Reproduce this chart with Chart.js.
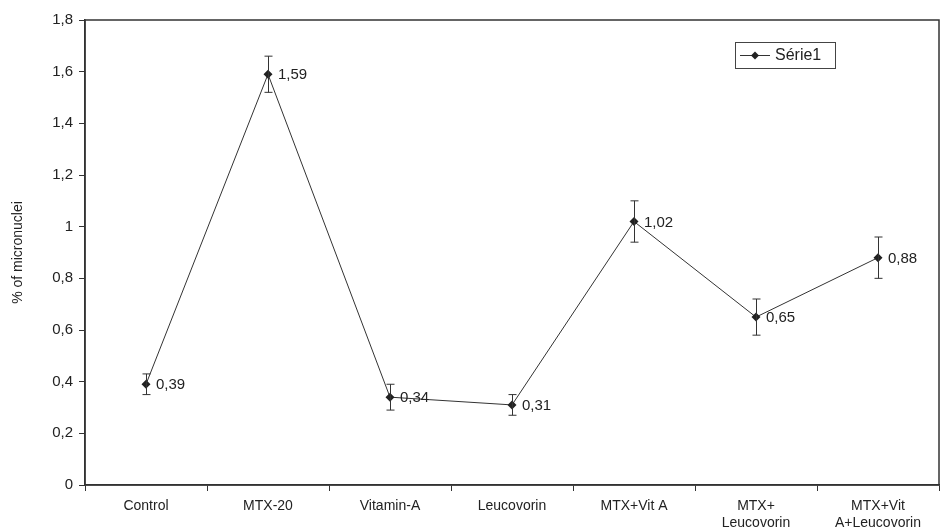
<!DOCTYPE html>
<html lang="pt">
  <head>
    <meta charset="UTF-8" />
    <title>% of micronuclei</title>
    <script src="https://cdn.jsdelivr.net/npm/chart.js"></script>
    <style>
      html, body { margin: 0; padding: 0; background: #fff; }
      #wrap { width: 940px; height: 531px; position: relative; }
    </style>
  </head>
  <body>
    <div id="wrap"><canvas id="chart"></canvas></div>

    <script>
      // dados
      const categories = [
        "Control",
        "MTX-20",
        "Vitamin-A",
        "Leucovorin",
        "MTX+Vit A",
        ["MTX+", "Leucovorin"],
        ["MTX+Vit", "A+Leucovorin"],
      ];
      const values = [0.39, 1.59, 0.34, 0.31, 1.02, 0.65, 0.88];
      const errors = [0.04, 0.07, 0.05, 0.04, 0.08, 0.07, 0.08];
      const yTicks = [0, 0.2, 0.4, 0.6, 0.8, 1, 1.2, 1.4, 1.6, 1.8];
      const seriesName = "Série1";

      const ink = "#222";
      const fmt = (v) => String(Math.round(v * 100) / 100).replace(".", ",");

      // moldura, barras de erro, rótulos e legenda
      const extras = {
        id: "extras",
        afterDatasetsDraw(chart) {
          const { ctx, chartArea: a, scales } = chart;
          const meta = chart.getDatasetMeta(0);
          ctx.save();

          // barras de erro
          ctx.strokeStyle = "#333";
          ctx.lineWidth = 1;
          meta.data.forEach((pt, i) => {
            const x = Math.round(pt.x) + 0.5;
            const yTop = scales.y.getPixelForValue(values[i] + errors[i]);
            const yBot = scales.y.getPixelForValue(values[i] - errors[i]);
            ctx.beginPath();
            ctx.moveTo(x, yTop);
            ctx.lineTo(x, yBot);
            ctx.moveTo(x - 4, yTop);
            ctx.lineTo(x + 4, yTop);
            ctx.moveTo(x - 4, yBot);
            ctx.lineTo(x + 4, yBot);
            ctx.stroke();
          });

          // rótulos de valor
          ctx.fillStyle = ink;
          ctx.font = "15px 'Liberation Sans', Arial, sans-serif";
          ctx.textBaseline = "middle";
          ctx.textAlign = "left";
          meta.data.forEach((pt, i) => {
            ctx.fillText(fmt(values[i]), pt.x + 10, pt.y + 1);
          });

          // moldura da área do gráfico
          ctx.strokeStyle = "#333";
          ctx.lineWidth = 1.5;
          ctx.strokeRect(a.left, a.top, a.right - a.left, a.bottom - a.top);

          // legenda
          const lx = 735, ly = 42, lw = 100, lh = 26;
          ctx.lineWidth = 1;
          ctx.fillStyle = "#fff";
          ctx.fillRect(lx, ly, lw, lh);
          ctx.strokeStyle = "#444";
          ctx.strokeRect(lx + 0.5, ly + 0.5, lw, lh);
          ctx.strokeStyle = "#333";
          ctx.beginPath();
          ctx.moveTo(lx + 5, ly + 13.5);
          ctx.lineTo(lx + 35, ly + 13.5);
          ctx.stroke();
          ctx.fillStyle = ink;
          ctx.beginPath();
          ctx.moveTo(lx + 20, ly + 9.5);
          ctx.lineTo(lx + 24, ly + 13.5);
          ctx.lineTo(lx + 20, ly + 17.5);
          ctx.lineTo(lx + 16, ly + 13.5);
          ctx.closePath();
          ctx.fill();
          ctx.font = "16px 'Liberation Sans', Arial, sans-serif";
          ctx.fillText(seriesName, lx + 40, ly + 14);

          ctx.restore();
        },
      };

      new Chart(document.getElementById("chart"), {
        type: "line",
        data: {
          labels: categories,
          datasets: [
            {
              label: seriesName,
              data: values,
              borderColor: "#333",
              borderWidth: 1,
              pointStyle: "rectRot",
              pointRadius: 4.5,
              pointBackgroundColor: ink,
              pointBorderColor: ink,
              pointBorderWidth: 0,
              tension: 0,
              fill: false,
            },
          ],
        },
        options: {
          responsive: true,
          maintainAspectRatio: false,
          animation: false,
          layout: {
            autoPadding: false,
            padding: { top: 20, right: 1, left: 0, bottom: 0 },
          },
          plugins: {
            legend: { display: false },
            tooltip: { enabled: false },
          },
          scales: {
            x: {
              offset: true,
              grid: {
                drawOnChartArea: false,
                tickLength: 6,
                color: "#333",
                offset: true,
              },
              border: { color: "#333", width: 1.5 },
              ticks: {
                color: ink,
                font: { family: "'Liberation Sans', Arial, sans-serif", size: 14 },
                maxRotation: 0,
                autoSkip: false,
                padding: 7,
              },
              afterFit(scale) {
                scale.height = 46;
              },
            },
            y: {
              min: 0,
              max: 1.8,
              afterBuildTicks(scale) {
                scale.ticks = yTicks.map((v) => ({ value: v }));
              },
              grid: {
                drawOnChartArea: false,
                tickLength: 6,
                color: "#333",
              },
              border: { color: "#333", width: 1.5 },
              ticks: {
                color: ink,
                font: { family: "'Liberation Sans', Arial, sans-serif", size: 15 },
                padding: 6,
                callback: (v) => fmt(v),
              },
              title: {
                display: true,
                text: "% of micronuclei",
                color: ink,
                font: { family: "'Liberation Sans', Arial, sans-serif", size: 14 },
                padding: { top: 10, bottom: 0 },
              },
              afterFit(scale) {
                scale.width = 85;
              },
            },
          },
        },
        plugins: [extras],
      });
    </script>
  </body>
</html>
